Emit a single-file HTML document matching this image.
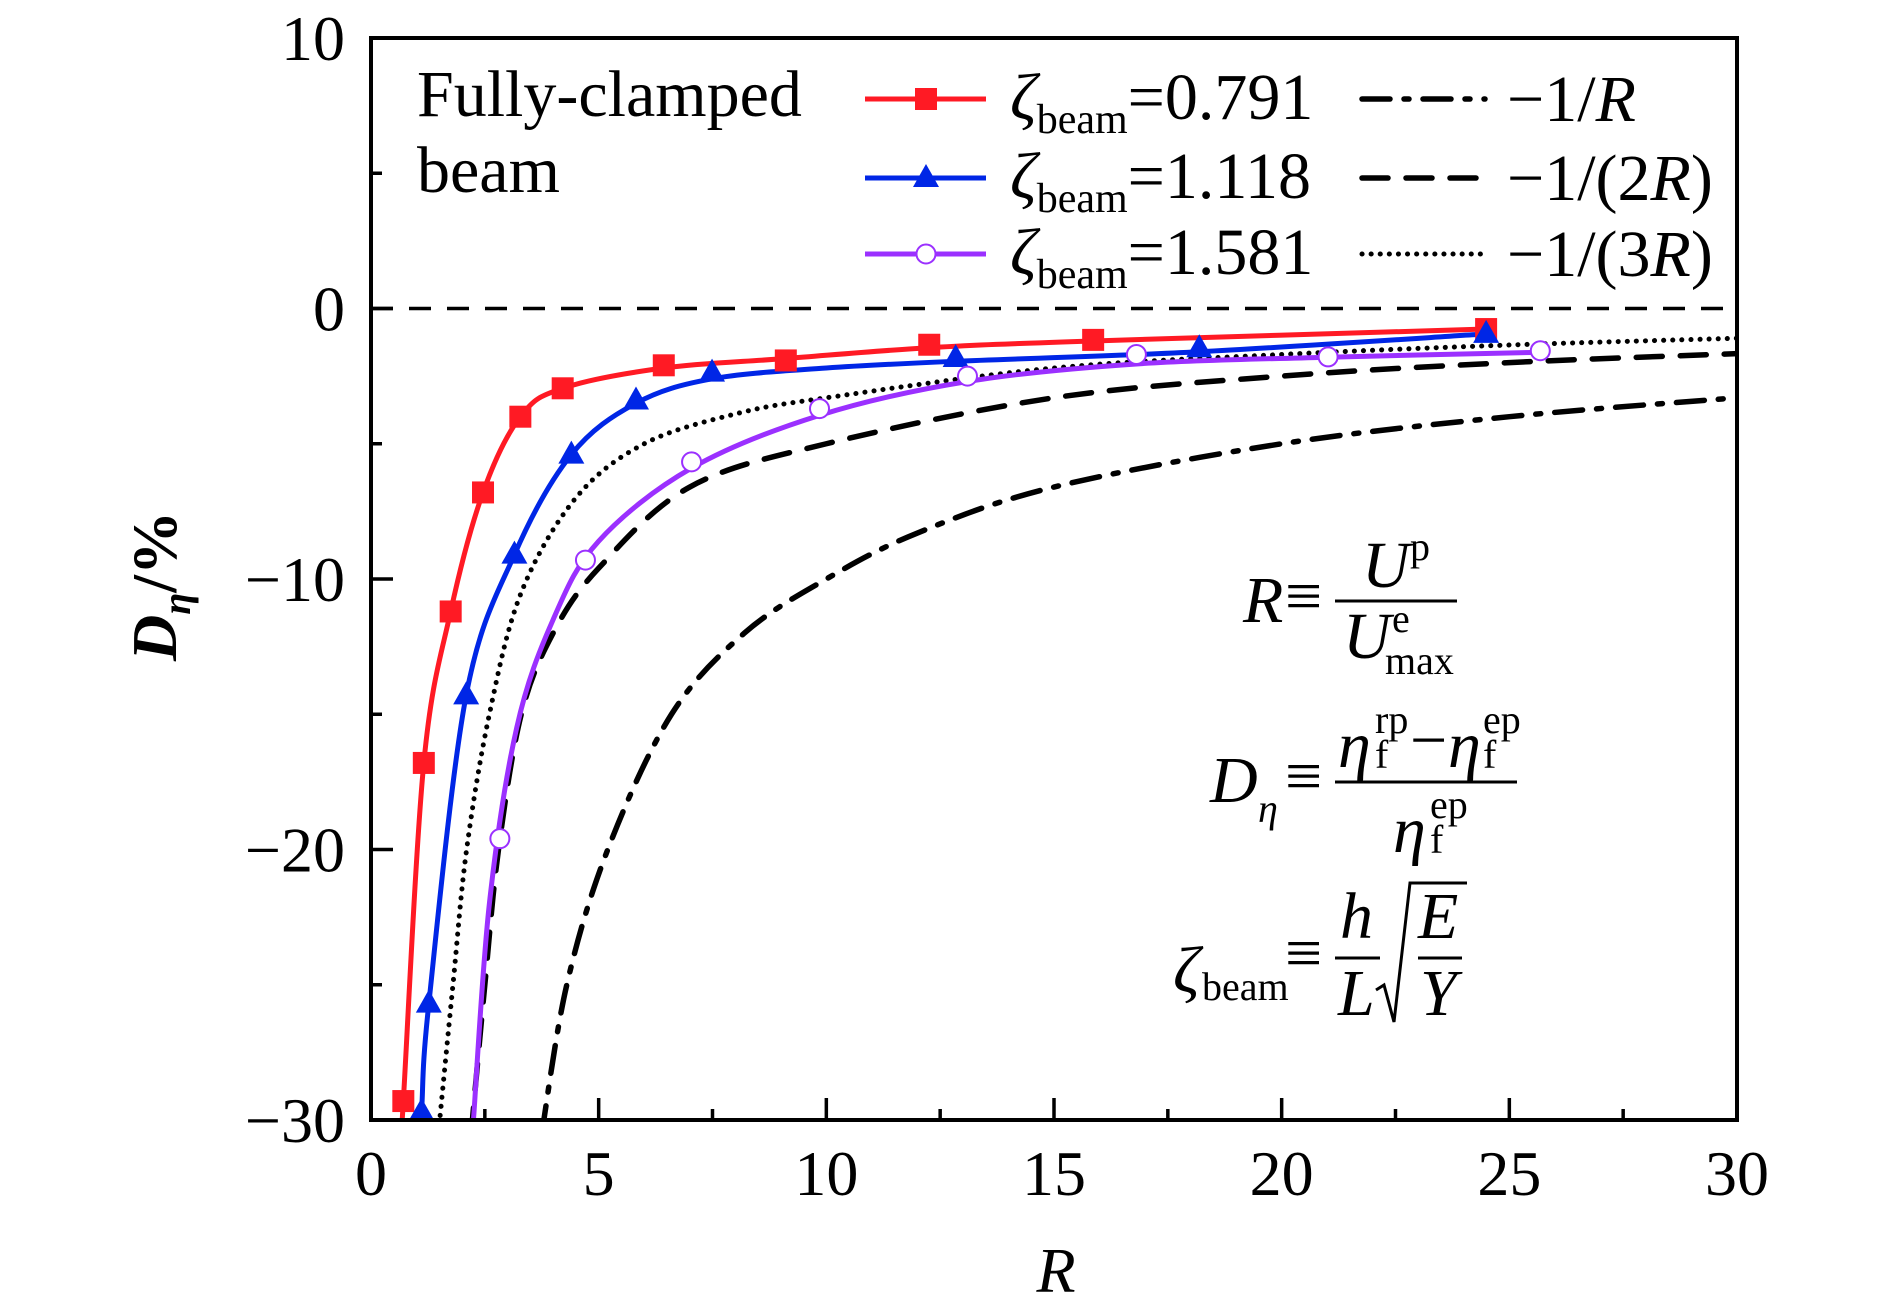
<!DOCTYPE html>
<html><head><meta charset="utf-8"><style>
html,body{margin:0;padding:0;background:#fff;}
svg{display:block;font-family:"Liberation Serif","DejaVu Serif",serif;}
</style></head><body>
<svg id="chart" width="1890" height="1312" viewBox="0 0 1890 1312" xmlns="http://www.w3.org/2000/svg">
<defs><clipPath id="clip"><rect x="371" y="38" width="1366" height="1082"/></clipPath></defs>
<g id="plot" clip-path="url(#clip)"></g>
<g id="axes"></g>
<g id="legend">
  <text x="417" y="116" font-size="66">Fully-clamped</text>
  <text x="417" y="192" font-size="66">beam</text>
</g>
<g id="formulas" font-size="66">
  <g>
    <text x="1243" y="622" font-style="italic">R</text>
    <text x="1285" y="618">≡</text>
    <line x1="1335" y1="601" x2="1457" y2="601" stroke="#000" stroke-width="3"/>
    <text x="1362" y="587" font-style="italic">U</text><text x="1410" y="560" font-size="40">p</text>
    <text x="1343" y="658" font-style="italic">U</text><text x="1392" y="632" font-size="40">e</text><text x="1385" y="674" font-size="40">max</text>
  </g>
  <g>
    <text x="1210" y="802" font-style="italic">D</text><text x="1258" y="822" font-size="40" font-style="italic">η</text>
    <text x="1285" y="798">≡</text>
    <line x1="1335" y1="782" x2="1517" y2="782" stroke="#000" stroke-width="3"/>
    <text x="1338" y="767" font-style="italic">η</text><text x="1375" y="733" font-size="40">rp</text><text x="1375" y="768" font-size="40">f</text>
    <text x="1410" y="762">−</text>
    <text x="1448" y="767" font-style="italic">η</text><text x="1483" y="733" font-size="40">ep</text><text x="1483" y="768" font-size="40">f</text>
    <text x="1393" y="852" font-style="italic">η</text><text x="1430" y="818" font-size="40">ep</text><text x="1430" y="853" font-size="40">f</text>
  </g>
  <g>
    <text x="1173" y="992" font-style="italic">ζ</text><text x="1202" y="1000" font-size="40">beam</text>
    <text x="1285" y="975">≡</text>
    <text x="1340" y="938" font-style="italic">h</text>
    <line x1="1335" y1="958" x2="1380" y2="958" stroke="#000" stroke-width="3"/>
    <text x="1338" y="1015" font-style="italic">L</text>
    <polyline points="1376,990 1384,985 1394,1022 1410,883 1467,883" fill="none" stroke="#000" stroke-width="3"/>
    <text x="1418" y="938" font-style="italic">E</text>
    <line x1="1418" y1="958" x2="1462" y2="958" stroke="#000" stroke-width="3"/>
    <text x="1420" y="1015" font-style="italic">Y</text>
  </g>
</g>
</svg>
<script>
// ---- data ----
const redX = [0.71,1.16,1.75,2.46,3.28,4.21,6.43,9.11,12.26,15.86,24.49];
const redY = [-29.3,-16.8,-11.2,-6.8,-4.0,-2.95,-2.1,-1.92,-1.34,-1.16,-0.76];
const blueX = [1.11,1.27,2.09,3.15,4.40,5.82,7.49,12.84,18.19,24.49];
const blueY = [-29.7,-25.7,-14.3,-9.1,-5.4,-3.4,-2.37,-1.83,-1.47,-0.94];
const purpleX = [2.83,4.71,7.04,9.85,13.1,16.81,21.02,25.68];
const purpleY = [-19.6,-9.3,-5.67,-3.7,-2.5,-1.7,-1.79,-1.56];
const purpleLineX = [2.25,2.6,3.2,4.0,5.0,7.04,9.85,13.1,16.81,21.02,25.68];
const purpleLineY = [-30,-22,-15.5,-11.5,-8.6,-5.9,-3.95,-2.7,-2.05,-1.8,-1.62];
const redLineX = [0.62,0.71,1.16,1.75,2.46,3.28,4.21,6.43,9.11,12.26,15.86,24.49];
const redLineY = [-32,-29.3,-16.8,-11.2,-6.8,-4.0,-2.95,-2.2,-1.85,-1.45,-1.2,-0.76];
const blueLineX = [1.02,1.11,1.27,2.09,3.15,4.40,5.82,7.49,10,12.84,18.19,24.49];
const blueLineY = [-32,-29.7,-25.7,-14.3,-9.1,-5.4,-3.5,-2.6,-2.2,-1.95,-1.6,-0.94];
const refRX = [3.75,4.3,5.2,6.6,8.2,10,12,15,20,25,30];
const refRY = [-30.5,-25,-20,-15,-12,-10,-8.3,-6.6,-5,-4,-3.3];
const ref2RX = [2.2,2.5,2.8,3.3,4,5,7,10,15,20,25,30];
const ref2RY = [-30.5,-25,-20,-15,-12,-9.6,-6.6,-5,-3.3,-2.5,-2,-1.67];
const ref3RX = [1.48,1.8,2.1,2.6,3.3,4.5,6,8,10,15,20,25,30];
const ref3RY = [-30.5,-25,-20,-15,-10.5,-7,-5,-3.9,-3.3,-2.2,-1.7,-1.35,-1.1];
const xTicks = [0,5,10,15,20,25,30];
const yTicks = [10,0,-10,-20,-30];
const xTickLabels = ["0","5","10","15","20","25","30"];
const yTickLabels = ["10","0","\u221210","\u221220","\u221230"];

const L=371,R=1737,T=38,B=1120;
const sx = v => L + (v-0)/30*(R-L);
const sy = v => T + (10-v)/40*(B-T);
const NS="http://www.w3.org/2000/svg";
function mk(tag, attrs, parent){const e=document.createElementNS(NS,tag);for(const k in attrs)e.setAttribute(k,attrs[k]);parent.appendChild(e);return e;}
function smooth(xs,ys){
  const p=xs.map((x,i)=>[sx(x),sy(ys[i])]);
  let d="M"+p[0][0]+","+p[0][1];
  for(let i=0;i<p.length-1;i++){
    const p0=p[Math.max(i-1,0)],p1=p[i],p2=p[i+1],p3=p[Math.min(i+2,p.length-1)];
    const c1=[p1[0]+(p2[0]-p0[0])/6,p1[1]+(p2[1]-p0[1])/6];
    const c2=[p2[0]-(p3[0]-p1[0])/6,p2[1]-(p3[1]-p1[1])/6];
    d+=" C"+c1[0]+","+c1[1]+" "+c2[0]+","+c2[1]+" "+p2[0]+","+p2[1];
  }
  return d;
}
const plot=document.getElementById('plot');
const axes=document.getElementById('axes');
const legend=document.getElementById('legend');

let z=mk('line',{x1:L,x2:R,y1:sy(0),y2:sy(0),stroke:'#000','stroke-width':3.5,'stroke-dasharray':'22 16'},plot);



let c;
c=mk('path',{d:smooth(refRX,refRY),fill:'none',stroke:'#000','stroke-width':5.5,'stroke-dasharray':'28 14 5 14','stroke-linecap':'round'},plot);


c=mk('path',{d:smooth(ref2RX,ref2RY),fill:'none',stroke:'#000','stroke-width':5.5,'stroke-dasharray':'26 18','stroke-linecap':'round'},plot);


c=mk('path',{d:smooth(ref3RX,ref3RY),fill:'none',stroke:'#000','stroke-width':5,'stroke-dasharray':'0.1 9','stroke-linecap':'round'},plot);



c=mk('path',{d:smooth(purpleLineX,purpleLineY),fill:'none',stroke:'#9b30ff','stroke-width':5},plot);


c=mk('path',{d:smooth(blueLineX,blueLineY),fill:'none',stroke:'#0026e6','stroke-width':5},plot);


c=mk('path',{d:smooth(redLineX,redLineY),fill:'none',stroke:'#ff1a24','stroke-width':5},plot);



function square(x,y,p){return mk('rect',{x:x-11,y:y-11,width:22,height:22,fill:'#ff1a24'},p);}
function tri(x,y,p){return mk('path',{d:'M'+x+','+(y-14)+' L'+(x+13)+','+(y+9)+' L'+(x-13)+','+(y+9)+' Z',fill:'#0026e6'},p);}
function circ(x,y,p){return mk('circle',{cx:x,cy:y,r:9.5,fill:'#fff',stroke:'#9b30ff','stroke-width':2},p);}
redX.forEach((v,i)=>{const e=square(sx(v),sy(redY[i]),plot);

});
blueX.forEach((v,i)=>{const e=tri(sx(v),sy(blueY[i]),plot);

});
purpleX.forEach((v,i)=>{const e=circ(sx(v),sy(purpleY[i]),plot);

});

let f=mk('rect',{x:L,y:T,width:R-L,height:B-T,fill:'none',stroke:'#000','stroke-width':4},axes);


for(let v=0;v<=30;v+=2.5){
  const major = v%5===0;
  const t=mk('line',{x1:sx(v),x2:sx(v),y1:B,y2:B-(major?22:11),stroke:'#000','stroke-width':3.5},axes);
  
  
}
for(let v=-30;v<=10;v+=5){
  const major = v%10===0;
  const t=mk('line',{x1:L,x2:L+(major?22:11),y1:sy(v),y2:sy(v),stroke:'#000','stroke-width':3.5},axes);
  
  
}
xTicks.forEach((v,i)=>{const t=mk('text',{x:sx(v),y:1195,'font-size':64,'text-anchor':'middle'},axes);t.textContent=xTickLabels[i];

});
yTicks.forEach((v,i)=>{const t=mk('text',{x:345,y:sy(v)+22,'font-size':64,'text-anchor':'end'},axes);t.textContent=yTickLabels[i];

});
let xt=mk('text',{x:1056,y:1292,'font-size':64,'text-anchor':'middle','font-style':'italic'},axes);xt.textContent='R';


let yt=mk('text',{transform:'translate(176,586) rotate(-90)','font-size':64,'text-anchor':'middle','font-weight':'bold'},axes);
yt.innerHTML='<tspan font-style="italic">D</tspan><tspan font-style="italic" font-size="40" dy="14">η</tspan><tspan dy="-14">/%</tspan>';



const legRows=[99,178,254];
const legCols=[['#ff1a24',square,'0.791'],['#0026e6',tri,'1.118'],['#9b30ff',circ,'1.581']];
legCols.forEach((r,i)=>{
  const g=mk('g',{},legend);
  
  
  mk('line',{x1:865,x2:986,y1:legRows[i],y2:legRows[i],stroke:r[0],'stroke-width':5},g);
  r[1](926,legRows[i],g);
  const t=mk('text',{x:1010,y:legRows[i]+20,'font-size':66},g);
  t.innerHTML='<tspan font-style="italic">ζ</tspan><tspan font-size="42" dy="14">beam</tspan><tspan dy="-14">='+r[2]+'</tspan>';
});
const refLeg=[['28 14 5 14','\u22121/<tspan font-style="italic">R</tspan>',5.5],['26 18','\u22121/(2<tspan font-style="italic">R</tspan>)',5.5],['0.1 9','\u22121/(3<tspan font-style="italic">R</tspan>)',5]];
refLeg.forEach((r,i)=>{
  const g=mk('g',{},legend);
  
  
  mk('line',{x1:1362,x2:1485,y1:legRows[i],y2:legRows[i],stroke:'#000','stroke-width':r[2],'stroke-dasharray':r[0],'stroke-linecap':'round'},g);
  const t=mk('text',{x:1507,y:legRows[i]+22,'font-size':66},g);
  t.innerHTML=r[1];
});
</script>
</body></html>
